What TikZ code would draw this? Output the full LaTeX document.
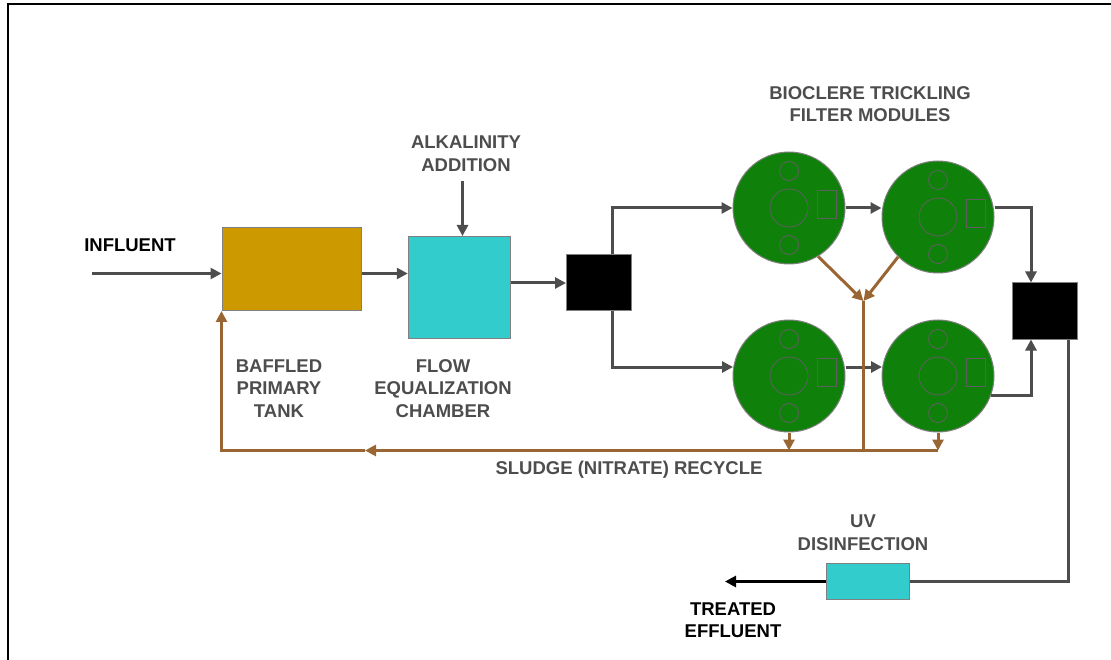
\documentclass[tikz,border=0pt]{standalone}
\usepackage{fontspec}
\setmainfont{Liberation Sans}
\usetikzlibrary{arrows.meta}
\definecolor{linegray}{HTML}{4D4D4D}
\definecolor{recyclebrown}{HTML}{996633}
\definecolor{tankgold}{HTML}{CC9900}
\definecolor{chamberteal}{HTML}{33CCCC}
\definecolor{filtergreen}{HTML}{0F800A}
\tikzset{
	unit/.style={draw=gray, line width=1pt, inner sep=0pt},
	filtermod/.style={unit, circle, fill=filtergreen, minimum size=112pt},
	inner/.style={draw=linegray!90, line width=0.8pt},
	flow/.style={draw=linegray, line width=3pt, ->},
	recycle/.style={draw=recyclebrown, line width=3pt, ->},
	graylabel/.style={align=center, text=linegray},
	blacklabel/.style={align=center, text=black},
}
\begin{document}
\begin{tikzpicture}[x=1pt, y=-1pt, >={Triangle[length=11pt, width=11pt]}, every node/.style={font=\fontsize{18.5}{22.5}\selectfont\bfseries}]
	\useasboundingbox (0,0) rectangle (1111,660);
	\draw[line width=2pt] (8,660) -- (8,4) -- (1111,4);

	\node[unit, fill=tankgold, minimum width=139pt, minimum height=83pt] (tank) at (291.5,269) {};
	\node[unit, fill=chamberteal, minimum width=102pt, minimum height=102pt] (chamber) at (459.25,287.5) {};
	\node[unit, fill=black, minimum width=65pt, minimum height=56pt] (split) at (599,283) {};
	\node[unit, fill=black, minimum width=65pt, minimum height=56pt] (merge) at (1045,311) {};
	\node[unit, fill=chamberteal, minimum width=83pt, minimum height=36pt] (uv) at (868,581.5) {};

	\foreach \name/\cx/\cy in {filterA/789/208, filterB/938/217, filterC/789/376, filterD/938/376} {
		\node[filtermod] (\name) at (\cx,\cy) {};
		\draw[inner] (\cx,\cy-37) circle (9.5pt);
		\draw[inner] (\cx,\cy+37) circle (9.5pt);
		\draw[inner] (\cx,\cy) circle (19pt);
		\draw[inner] (\cx+28,\cy-18) rectangle (\cx+47,\cy+10);
	}

	\coordinate (influent) at (92,273.5);
	\coordinate (alkalinity) at (462.5,181);
	\coordinate (effluent) at (725,581.5);
	\coordinate (splittop) at (612.5,254.5);
	\coordinate (splitbot) at (612.5,311.5);
	\coordinate (mergetop) at (1031,282.5);
	\coordinate (mergebot) at (1031,339.5);
	\coordinate (mergeout) at (1068,339.5);
	\coordinate (junction) at (863.5,301);
	\coordinate (base) at (863.5,450.5);

	\draw[flow] (influent) -- (influent -| tank.west);
	\draw[flow] (influent -| tank.east) -- (influent -| chamber.west);
	\draw[flow] (alkalinity) -- (alkalinity |- chamber.north);
	\draw[flow] (chamber.east |- split.west) -- (split.west);
	\draw[flow] (splittop) |- (filterA.west);
	\draw[flow] (splitbot) |- (733,367);
	\draw[flow] (filterA.east) -- (filterB.west |- filterA.east);
	\draw[flow] (filterC.east |- 0,367) -- (882,367);
	\draw[flow] (filterB.east |- filterA.east) -| (mergetop);
	\draw[flow] (filterD.-20) -| (mergebot);
	\draw[flow, -] (mergeout) |- (uv.east);
	\draw[draw=black, line width=3pt, ->] (uv.west) -- (effluent);

	% recycle lines go over the flow lines
	\draw[recycle] (filterA.-59) -- (junction);
	\draw[recycle] (filterB.-135) -- (junction);
	\draw[recycle, -] (junction) -- (base);
	\draw[recycle] (filterC.south) -- (filterC.south |- base);
	\draw[recycle] (filterD.south) -- (filterD.south |- base);
	\draw[recycle] (filterD.south |- base) -- (365,450.5);
	\draw[recycle] (365,450.5) -| (tank.south west);

	\node[blacklabel] (influentlabel) at (130,245) {INFLUENT};
	\node[graylabel] (tanklabel) at (279,388.5) {BAFFLED\\PRIMARY\\TANK};
	\node[graylabel] (chamberlabel) at (443,388.5) {FLOW\\EQUALIZATION\\CHAMBER};
	\node[graylabel] (alkalinitylabel) at (466,153.5) {ALKALINITY\\ADDITION};
	\node[graylabel] (filterlabel) at (870,104) {BIOCLERE TRICKLING\\FILTER MODULES};
	\node[graylabel] (recyclelabel) at (629,470) {SLUDGE (NITRATE) RECYCLE};
	\node[graylabel] (uvlabel) at (863,532.5) {UV\\DISINFECTION};
	\node[blacklabel] (effluentlabel) at (733,620) {TREATED\\EFFLUENT};
\end{tikzpicture}
\end{document}
